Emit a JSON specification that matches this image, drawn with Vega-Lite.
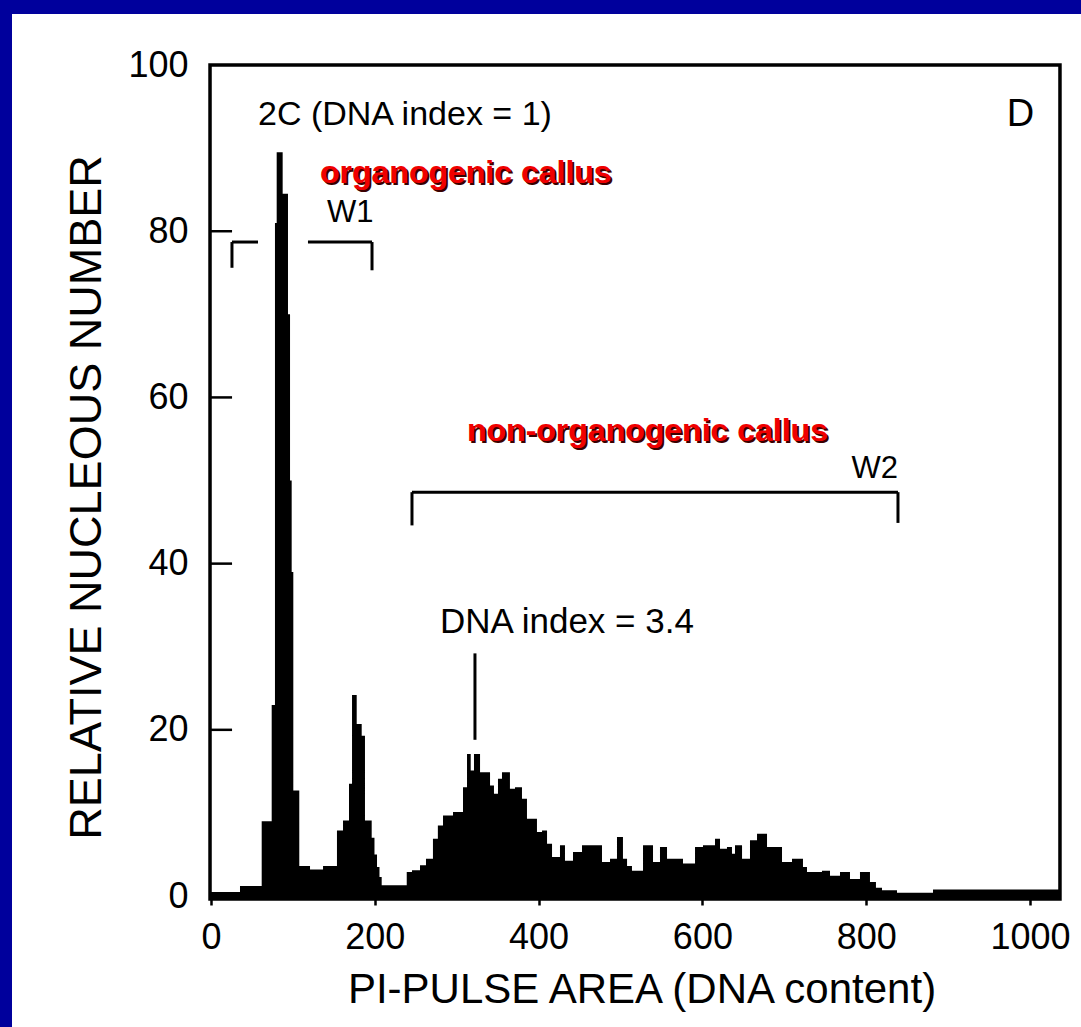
{
  "$schema": "https://vega.github.io/schema/vega-lite/v6.json",
  "width": 1069,
  "height": 1013,
  "autosize": {"type": "none"},
  "padding": {"left": 12, "top": 14, "right": 0, "bottom": 0},
  "background": "#00009c",
  "config": {
    "view": {"fill": "white", "stroke": null},
    "text": {"font": "Liberation Sans"}
  },
  "datasets": {
    "hist": [
      {"x": -1.2, "n": 0.5}, {"x": 35.4, "n": 1.2}, {"x": 61.9, "n": 9}, {"x": 74.1, "n": 23},
      {"x": 78.1, "n": 81}, {"x": 80.2, "n": 89.5}, {"x": 87.5, "n": 84.5}, {"x": 94, "n": 70},
      {"x": 96.5, "n": 50}, {"x": 98.5, "n": 39}, {"x": 100.5, "n": 12.7}, {"x": 107.8, "n": 3.6},
      {"x": 120.9, "n": 3.2}, {"x": 136.8, "n": 3.6}, {"x": 153.8, "n": 7.9}, {"x": 161.2, "n": 9.1},
      {"x": 168.5, "n": 13.5}, {"x": 172.2, "n": 24.2}, {"x": 177.9, "n": 20.7}, {"x": 184, "n": 19.3},
      {"x": 188, "n": 9.1}, {"x": 196.2, "n": 7}, {"x": 199.6, "n": 5}, {"x": 202.7, "n": 3.5},
      {"x": 205.7, "n": 2.3}, {"x": 208.4, "n": 1.3}, {"x": 239, "n": 2.9}, {"x": 245.4, "n": 3.1},
      {"x": 255.2, "n": 3.7}, {"x": 262.5, "n": 4.5}, {"x": 271, "n": 6.9}, {"x": 277, "n": 8.5},
      {"x": 283.3, "n": 9.7}, {"x": 295.5, "n": 10.1}, {"x": 307.7, "n": 13.1}, {"x": 312.6, "n": 17.1},
      {"x": 317.1, "n": 15.1}, {"x": 321.1, "n": 17.1}, {"x": 328.5, "n": 14.9}, {"x": 340.7, "n": 13.3},
      {"x": 345.5, "n": 12.3}, {"x": 350.4, "n": 14.1}, {"x": 355.3, "n": 14.9}, {"x": 365, "n": 12.9},
      {"x": 371.2, "n": 13.1}, {"x": 379.7, "n": 11.7}, {"x": 385.8, "n": 9.3}, {"x": 398, "n": 7.7},
      {"x": 404.2, "n": 7.9}, {"x": 410.3, "n": 6.3}, {"x": 416.4, "n": 4.7}, {"x": 426.1, "n": 6.1},
      {"x": 432.2, "n": 4.25}, {"x": 442, "n": 5.3}, {"x": 453, "n": 6.1}, {"x": 477.4, "n": 4.1},
      {"x": 487.2, "n": 4.5}, {"x": 495.7, "n": 7.1}, {"x": 503, "n": 4.5}, {"x": 508, "n": 3.6},
      {"x": 514, "n": 3.05}, {"x": 527.5, "n": 6.1}, {"x": 539.7, "n": 4.1}, {"x": 548.2, "n": 5.9},
      {"x": 556.8, "n": 4.5}, {"x": 576.3, "n": 3.9}, {"x": 591, "n": 5.9}, {"x": 600.7, "n": 6.1},
      {"x": 615.4, "n": 6.9}, {"x": 621.5, "n": 5.7}, {"x": 630, "n": 5.9}, {"x": 636.1, "n": 5.1},
      {"x": 639.8, "n": 6.1}, {"x": 648.4, "n": 4.5}, {"x": 658.1, "n": 6.7}, {"x": 666.7, "n": 7.5},
      {"x": 678.9, "n": 5.9}, {"x": 697.2, "n": 4.1}, {"x": 709.4, "n": 4.5}, {"x": 722.8, "n": 3.5},
      {"x": 727.7, "n": 2.9}, {"x": 746, "n": 3.05}, {"x": 755.8, "n": 2.45}, {"x": 768, "n": 2.9},
      {"x": 780.2, "n": 2.05}, {"x": 792.4, "n": 2.9}, {"x": 804.6, "n": 1.7}, {"x": 811.9, "n": 1.0},
      {"x": 819.3, "n": 0.7}, {"x": 837.6, "n": 0.4}, {"x": 881.6, "n": 0.8}, {"x": 1036.6, "n": 0.8}
    ],
    "segments": [
      {"x": 25.6, "x2": 25.6, "y": 78.7, "y2": 75.6},
      {"x": 25.6, "x2": 57.4, "y": 78.7, "y2": 78.7},
      {"x": 118.4, "x2": 196.6, "y": 78.7, "y2": 78.7},
      {"x": 196.6, "x2": 196.6, "y": 78.7, "y2": 75.3},
      {"x": 245.4, "x2": 245.4, "y": 48.6, "y2": 44.6},
      {"x": 245.4, "x2": 838.8, "y": 48.6, "y2": 48.6},
      {"x": 838.8, "x2": 838.8, "y": 48.6, "y2": 44.9},
      {"x": 322.3, "x2": 322.3, "y": 29.2, "y2": 18.8}
    ],
    "yticks": [{"v": 20}, {"v": 40}, {"v": 60}, {"v": 80}]
  },
  "layer": [
    {
      "data": {"name": "hist"},
      "mark": {"type": "area", "interpolate": "step-after", "color": "black"},
      "encoding": {
        "x": {
          "field": "x", "type": "quantitative",
          "scale": {"domain": [-242.98, 1062.27], "nice": false, "zero": false},
          "axis": {
            "orient": "bottom", "offset": -128, "domain": false, "grid": false,
            "values": [0, 200, 400, 600, 800, 1000], "format": "d",
            "tickSize": 6, "tickWidth": 2.5, "tickColor": "black",
            "labelFont": "Liberation Sans", "labelFontSize": 36, "labelColor": "black",
            "labelPadding": 15, "labelFlush": false,
            "title": "PI-PULSE AREA (DNA content)",
            "titleFont": "Liberation Sans", "titleFontSize": 42, "titleFontWeight": "normal",
            "titleColor": "black", "titleX": 629.5, "titleY": 103,
            "titleAlign": "center", "titleBaseline": "alphabetic"
          }
        },
        "y": {
          "field": "n", "type": "quantitative",
          "scale": {"domain": [-15.76, 106.14], "nice": false, "zero": false},
          "axis": {
            "orient": "left", "offset": -198, "domain": false, "grid": false,
            "values": [0, 20, 40, 60, 80, 100],
            "ticks": false, "tickSize": 0,
            "labelFont": "Liberation Sans", "labelFontSize": 36, "labelColor": "black",
            "labelPadding": 22, "labelFlush": false,
            "title": "RELATIVE NUCLEOUS NUMBER",
            "titleFont": "Liberation Sans", "titleFontSize": 45, "titleFontWeight": "normal",
            "titleColor": "black", "titleX": -110, "titleY": 483,
            "titleAngle": -90, "titleAlign": "center", "titleBaseline": "alphabetic"
          }
        },
        "y2": {"datum": -0.36}
      }
    },
    {
      "data": {"values": [{"x0": -1.2, "x1": 1036.6, "y0": -0.36, "y1": 100}]},
      "mark": {"type": "rect", "fill": null, "fillOpacity": 0, "stroke": "black", "strokeWidth": 3.5},
      "encoding": {
        "x": {"field": "x0", "type": "quantitative"},
        "x2": {"field": "x1"},
        "y": {"field": "y0", "type": "quantitative"},
        "y2": {"field": "y1"}
      }
    },
    {
      "data": {"name": "yticks"},
      "mark": {"type": "rule", "color": "black", "strokeWidth": 2.5},
      "encoding": {
        "y": {"field": "v", "type": "quantitative"},
        "x": {"datum": -1.2},
        "x2": {"datum": 25.7}
      }
    },
    {
      "data": {"name": "segments"},
      "mark": {"type": "rule", "color": "black", "strokeWidth": 3},
      "encoding": {
        "x": {"field": "x", "type": "quantitative"},
        "x2": {"field": "x2"},
        "y": {"field": "y", "type": "quantitative"},
        "y2": {"field": "y2"}
      }
    },
    {
      "data": {"values": [{"x": 57.4, "y": 92.8, "label": "2C (DNA index = 1)"}]},
      "mark": {"type": "text", "align": "left", "baseline": "alphabetic", "fontSize": 34, "color": "black"},
      "encoding": {
        "x": {"field": "x", "type": "quantitative"},
        "y": {"field": "y", "type": "quantitative"},
        "text": {"field": "label"}
      }
    },
    {
      "data": {"values": [{"x": 279.6, "y": 31.6, "label": "DNA index = 3.4"}]},
      "mark": {"type": "text", "align": "left", "baseline": "alphabetic", "fontSize": 35, "color": "black"},
      "encoding": {
        "x": {"field": "x", "type": "quantitative"},
        "y": {"field": "y", "type": "quantitative"},
        "text": {"field": "label"}
      }
    },
    {
      "data": {"values": [{"x": 971.6, "y": 92.7, "label": "D"}]},
      "mark": {"type": "text", "align": "left", "baseline": "alphabetic", "fontSize": 38, "color": "black"},
      "encoding": {
        "x": {"field": "x", "type": "quantitative"},
        "y": {"field": "y", "type": "quantitative"},
        "text": {"field": "label"}
      }
    },
    {
      "data": {"values": [{"x": 141.6, "y": 81.1, "label": "W1"}]},
      "mark": {"type": "text", "align": "left", "baseline": "alphabetic", "fontSize": 31, "color": "black"},
      "encoding": {
        "x": {"field": "x", "type": "quantitative"},
        "y": {"field": "y", "type": "quantitative"},
        "text": {"field": "label"}
      }
    },
    {
      "data": {"values": [{"x": 838.8, "y": 50.3, "label": "W2"}]},
      "mark": {"type": "text", "align": "right", "baseline": "alphabetic", "fontSize": 31, "color": "black"},
      "encoding": {
        "x": {"field": "x", "type": "quantitative"},
        "y": {"field": "y", "type": "quantitative"},
        "text": {"field": "label"}
      }
    },
    {
      "data": {"values": [{"x": 133.1, "y": 85.8, "label": "organogenic callus"}, {"x": 312.6, "y": 54.8, "label": "non-organogenic callus"}]},
      "mark": {"type": "text", "align": "left", "baseline": "alphabetic", "fontSize": 32, "fontWeight": "bold", "color": "#3a0000", "dx": 2, "dy": 2},
      "encoding": {
        "x": {"field": "x", "type": "quantitative"},
        "y": {"field": "y", "type": "quantitative"},
        "text": {"field": "label"}
      }
    },
    {
      "data": {"values": [{"x": 133.1, "y": 85.8, "label": "organogenic callus"}, {"x": 312.6, "y": 54.8, "label": "non-organogenic callus"}]},
      "mark": {"type": "text", "align": "left", "baseline": "alphabetic", "fontSize": 32, "fontWeight": "bold", "color": "#f00000"},
      "encoding": {
        "x": {"field": "x", "type": "quantitative"},
        "y": {"field": "y", "type": "quantitative"},
        "text": {"field": "label"}
      }
    }
  ]
}
